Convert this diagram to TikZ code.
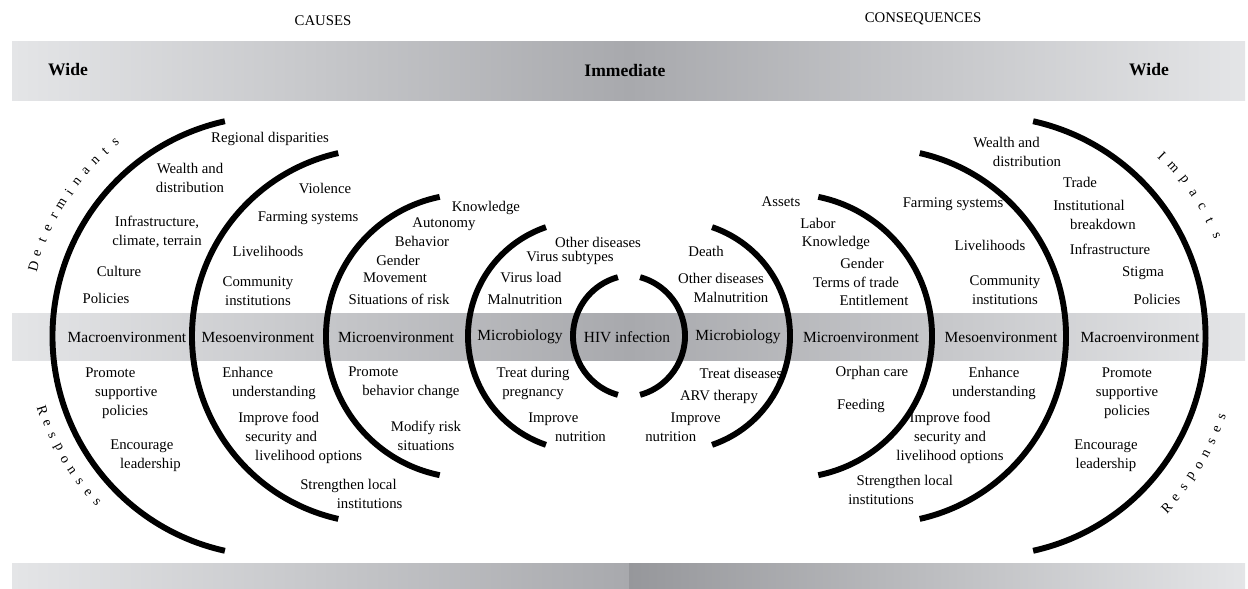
\documentclass[tikz,border=0pt]{standalone}
\usepackage{fontspec}
\setmainfont{Liberation Serif}

\definecolor{bandlight}{HTML}{E4E5E7}
\definecolor{banddark}{HTML}{A8A9AD}
\definecolor{banddeep}{HTML}{96979B}

\tikzset{
  ring/.style={line width=4.2pt},
  txt/.style={font=\fontsize{10.5}{13.5}\selectfont, align=center, inner sep=0pt},
  txtl/.style={txt, align=left, anchor=west},
  bandtxt/.style={font=\fontsize{11}{13}\selectfont, inner sep=0pt},
  head/.style={font=\fontsize{12.5}{14}\selectfont\bfseries, inner sep=0pt},
  toptitle/.style={font=\fontsize{10.5}{12}\selectfont, inner sep=0pt},
  letter/.style={font=\fontsize{10}{12}\selectfont, inner sep=0pt},
}

\begin{document}
\begin{tikzpicture}[x=0.025cm, y=-0.025cm]
    % --- 参数 ---
    \def\mx{629}      % 对称轴
    \def\my{336}      % 中间条的中线
    \def\lx{272.5}    % 左外弧圆心
    \def\rx{985.5}    % 右外弧圆心
    \useasboundingbox (0,0) rectangle (1248,588);

    % --- 灰色条带 ---
    \shade[left color=bandlight, right color=banddark] (12,41) rectangle (\mx,100);
    \shade[left color=banddark, right color=bandlight] (\mx,41) rectangle (1245,100);
    \shade[left color=bandlight, right color=banddark] (12,313) rectangle (\mx,360);
    \shade[left color=banddark, right color=bandlight] (\mx,313) rectangle (1245,360);
    \shade[left color=bandlight, right color=banddark] (12,563) rectangle (\mx,588);
    \shade[left color=banddeep, right color=bandlight] (\mx,563) rectangle (1245,588);

    % --- 圆弧 (左右对称) ---
    \foreach \d/\r/\a in {356.5/220/102.5, 249.5/187.5/102.7, 161/142/101.5, 46/115/108.8, -5/61/105.3} {
        \draw[ring] ({\mx-(\d)},\my) ++(\a:\r) arc[start angle=\a, end angle=360-\a, radius=\r];
        \draw[ring] ({\mx+(\d)},\my) ++(180-\a:\r) arc[start angle=180-\a, end angle=\a-180, radius=\r];
    }

    % --- 标题 ---
    \node[toptitle] (causes) at (323,21) {CAUSES};
    \node[toptitle] (conseq) at (923,19) {CONSEQUENCES};
    \node[head] (wideL) at (68,70) {Wide};
    \node[head] (immed) at (625,70) {Immediate};
    \node[head] (wideR) at (1149,70) {Wide};

    % --- 中间条的标签 ---
    \node[bandtxt] (macroL) at (127,337) {Macroenvironment};
    \node[bandtxt] (mesoL) at (258,337) {Mesoenvironment};
    \node[bandtxt] (microL) at (396,337) {Microenvironment};
    \node[bandtxt] (mbioL) at (520,337) {Microbiology};
    \node[bandtxt] (hiv) at (627,337) {HIV infection};
    \node[bandtxt] (mbioR) at (738,337) {Microbiology};
    \node[bandtxt] (microR) at (861,337) {Microenvironment};
    \node[bandtxt] (mesoR) at (1001,337) {Mesoenvironment};
    \node[bandtxt] (macroR) at (1140,337) {Macroenvironment};

    % --- 原因: 决定因素 ---
    \node[txt] (cRegion) at (270,139) {Regional disparities};
    \node[txt] (cWealth) at (190,178) {Wealth and\\distribution};
    \node[txt] (cViolence) at (325,188) {Violence};
    \node[txt] (cInfra) at (157,232) {Infrastructure,\\climate, terrain};
    \node[txt] (cFarming) at (308,218) {Farming systems};
    \node[txt] (cLivelihood) at (268,251) {Livelihoods};
    \node[txt] (cCulture) at (119,271) {Culture};
    \node[txt] (cCommunity) at (258,291) {Community\\institutions};
    \node[txt] (cPolicies) at (106,298) {Policies};
    \node[txt] (cKnowledge) at (486,208) {Knowledge};
    \node[txt] (cAutonomy) at (444,224) {Autonomy};
    \node[txt] (cBehavior) at (422,241) {Behavior};
    \node[txt] (cGender) at (398,260) {Gender};
    \node[txt] (cMovement) at (395,278) {Movement};
    \node[txt] (cRisk) at (399,299) {Situations of risk};
    \node[txt] (cOther) at (598,242) {Other diseases};
    \node[txt] (cSubtypes) at (570,258) {Virus subtypes};
    \node[txt] (cLoad) at (531,277) {Virus load};
    \node[txt] (cMalnut) at (525,299) {Malnutrition};

    % --- 原因: 应对 ---
    \node[txtl] (cPromote) at (85,393) {Promote\\\hspace*{7pt}supportive\\\hspace*{12pt}policies};
    \node[txtl] (cEncourage) at (110,456) {Encourage\\\hspace*{7pt}leadership};
    \node[txtl] (cEnhance) at (222,383) {Enhance\\\hspace*{7pt}understanding};
    \node[txtl] (cFood) at (238,438) {Improve food\\\hspace*{5pt}security and\\\hspace*{12pt}livelihood options};
    \node[txtl] (cStrengthen) at (300,494) {Strengthen local\\\hspace*{26pt}institutions};
    \node[txtl] (cBehavChange) at (348,383) {Promote\\\hspace*{10pt}behavior change};
    \node[txt] (cModify) at (426,436) {Modify risk\\situations};
    \node[txt] (cTreat) at (533,383) {Treat during\\pregnancy};
    \node[txtl] (cNutrition) at (528,427) {Improve\\\hspace*{19pt}nutrition};

    % --- 后果: 影响 ---
    \node[txt] (kDeath) at (706,251) {Death};
    \node[txt] (kOther) at (721,278) {Other diseases};
    \node[txt] (kMalnut) at (731,297) {Malnutrition};
    \node[txt] (kAssets) at (781,202) {Assets};
    \node[txt] (kLabor) at (818,223) {Labor};
    \node[txt] (kKnowledge) at (836,243) {Knowledge};
    \node[txt] (kGender) at (862,263) {Gender};
    \node[txt] (kTerms) at (856,282) {Terms of trade};
    \node[txt] (kEntitle) at (874,300) {Entitlement};
    \node[txtl] (kWealth) at (973,152) {Wealth and\\\hspace*{14pt}distribution};
    \node[txt] (kTrade) at (1080,182) {Trade};
    \node[txt] (kFarming) at (953,204) {Farming systems};
    \node[txtl] (kInstit) at (1053,215) {Institutional\\\hspace*{12pt}breakdown};
    \node[txt] (kLivelihood) at (990,245) {Livelihoods};
    \node[txt] (kInfra) at (1110,249) {Infrastructure};
    \node[txt] (kStigma) at (1143,273) {Stigma};
    \node[txt] (kCommunity) at (1005,290) {Community\\institutions};
    \node[txt] (kPolicies) at (1157,299) {Policies};

    % --- 后果: 应对 ---
    \node[txt] (kTreat) at (741,373) {Treat diseases};
    \node[txt] (kArv) at (719,397) {ARV therapy};
    \node[txtl] (kNutrition) at (645,427) {\hspace*{18pt}Improve\\nutrition};
    \node[txt] (kOrphan) at (872,373) {Orphan care};
    \node[txt] (kFeeding) at (861,406) {Feeding};
    \node[txt] (kEnhance) at (994,383) {Enhance\\understanding};
    \node[txt] (kFood) at (950,438) {Improve food\\security and\\livelihood options};
    \node[txtl] (kStrengthen) at (848,490) {\hspace*{6pt}Strengthen local\\institutions};
    \node[txt] (kPromote) at (1127,393) {Promote\\supportive\\policies};
    \node[txt] (kEncourage) at (1106,456) {Encourage\\leadership};

    % --- 沿外弧排列的字母 ---
    \foreach \ch [count=\i] in {D,e,t,e,r,m,i,n,a,n,t,s} {
        \pgfmathsetmacro\ang{163.7-(\i-1)*3.15}
        \node[letter, rotate=\ang-90] (det\i) at ([shift={(-\ang:249)}] \lx,\my) {\ch};
    }
    \foreach \ch [count=\i] in {R,e,s,p,o,n,s,e,s} {
        \pgfmathsetmacro\ang{198+(\i-1)*3.18}
        \node[letter, rotate=\ang+90] (resL\i) at ([shift={(-\ang:242)}] \lx,\my) {\ch};
    }
    \foreach \ch [count=\i] in {I,m,p,a,c,t,s} {
        \pgfmathsetmacro\ang{45.6-(\i-1)*3.67}
        \node[letter, rotate=\ang-90] (imp\i) at ([shift={(-\ang:252)}] \rx,\my) {\ch};
    }
    \foreach \ch [count=\i] in {R,e,s,p,o,n,s,e,s} {
        \pgfmathsetmacro\ang{-43.5+(\i-1)*3.08}
        \node[letter, rotate=\ang+90] (resR\i) at ([shift={(-\ang:250)}] \rx,\my) {\ch};
    }

\end{tikzpicture}
\end{document}
